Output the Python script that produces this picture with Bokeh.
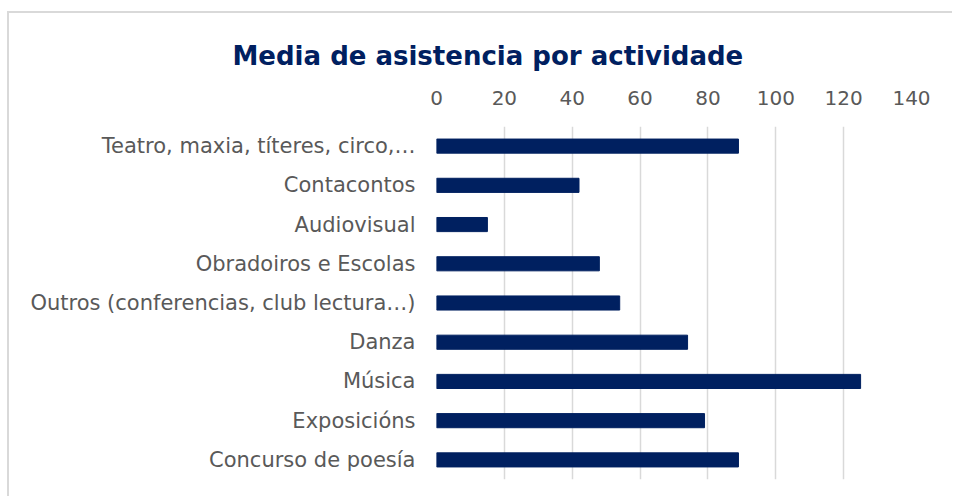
from bokeh.plotting import figure
from bokeh.models import FactorRange, Range1d, FixedTicker, Title
from bokeh.embed import file_html
from bokeh.resources import INLINE

categories = [
    "Teatro, maxia, títeres, circo,…",
    "Contacontos",
    "Audiovisual",
    "Obradoiros e Escolas",
    "Outros (conferencias, club lectura…)",
    "Danza",
    "Música",
    "Exposicións",
    "Concurso de poesía",
]
values = [89, 42, 15, 48, 54, 74, 125, 79, 89]
ticks = [0, 20, 40, 60, 80, 100, 120, 140]

NAVY = "#002060"
GREY = "#595959"
FONT = "DejaVu Sans"

p = figure(
    width=945, height=485,
    y_range=FactorRange(factors=list(reversed(categories)), range_padding=0),
    x_range=Range1d(0, 140),
    output_backend="svg", toolbar_location=None,
    x_axis_location="above",
    min_border_left=427, min_border_right=43,
    min_border_top=113, min_border_bottom=19,
)
p.margin = (11, 0, 0, 7)
p.styles = {"border-top": "2px solid #d9d9d9", "border-left": "2px solid #d9d9d9"}
p.outline_line_color = None
p.background_fill_color = "white"
p.border_fill_color = "white"

p.hbar(y=categories, right=values, left=0, height=0.36, color=NAVY)

xa = p.xaxis[0]
xa.ticker = FixedTicker(ticks=ticks)
xa.axis_line_color = None
xa.major_tick_line_color = None
xa.minor_tick_line_color = None
xa.major_label_text_font = FONT
xa.major_label_text_font_size = "20px"
xa.major_label_text_color = GREY
xa.major_label_standoff = 16

ya = p.yaxis[0]
ya.axis_line_color = None
ya.major_tick_line_color = None
ya.minor_tick_line_color = None
ya.major_label_text_font = FONT
ya.major_label_text_font_size = "21px"
ya.major_label_text_color = GREY
ya.major_label_standoff = 15

p.xgrid.ticker = FixedTicker(ticks=ticks)
p.xgrid.grid_line_color = "#d9d9d9"
p.xgrid.grid_line_width = 1.5
p.ygrid.grid_line_color = None

p.title = Title(text="Media de asistencia por actividade")
p.title.text_font = FONT
p.title.text_font_style = "bold"
p.title.text_font_size = "26px"
p.title.text_color = NAVY
p.title.text_line_height = 0.8
p.title.align = "left"
p.title.offset = -204
p.title.standoff = 34
p.title_location = "above"

open("out.html", "w").write(file_html(p, INLINE))
